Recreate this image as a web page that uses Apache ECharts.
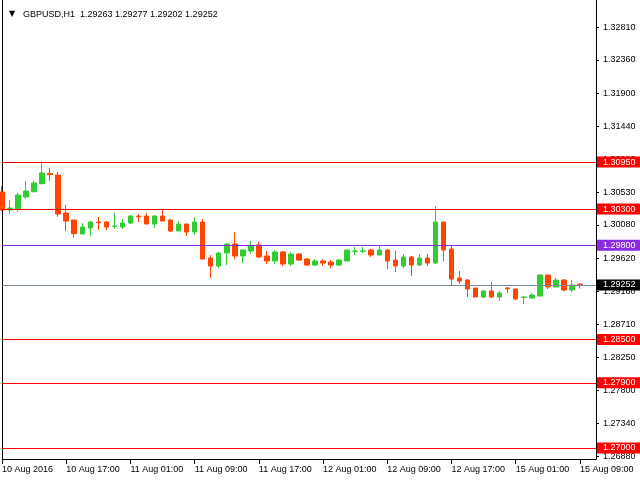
<!DOCTYPE html>
<html>
<head>
<meta charset="utf-8">
<script src="https://cdn.jsdelivr.net/npm/echarts@6/dist/echarts.min.js"></script>
<style>html,body{margin:0;padding:0;background:#fff;}#c{width:640px;height:480px;}</style>
</head>
<body>
<div id="c"></div>
<script>
var symbolName = 'GBPUSD,H1';
var days = ['10 Aug', '11 Aug', '12 Aug', '15 Aug'];
var dayHours = [[9, 23], [0, 23], [0, 23], [0, 11]];
var firstLabel = '10 Aug 2016';

var openV = [1.30536,1.30287,1.30301,1.30467,1.30540,1.30650,1.30794,1.30770,1.30246,1.30149,
 1.29956,1.30038,1.30121,1.30121,1.30062,1.30052,1.30107,1.30204,1.30204,1.30094,
 1.30204,1.30149,1.29997,1.30094,1.29983,1.30121,1.29624,1.29514,1.29693,1.29817,
 1.29652,1.29721,1.29804,1.29652,1.29583,1.29707,1.29541,1.29679,1.29610,1.29527,
 1.29583,1.29569,1.29527,1.29583,1.29717,1.29717,1.29734,1.29665,1.29734,1.29596,
 1.29514,1.29638,1.29527,1.29624,1.29555,1.30121,1.29748,1.29348,1.29320,1.29210,
 1.29085,1.29168,1.29085,1.29210,1.29196,1.29080,1.29072,1.29099,1.29389,1.29224,
 1.29320,1.29182,1.29263];
var highV = [1.30619,1.30425,1.30522,1.30688,1.30688,1.30960,1.30867,1.30812,1.30356,1.30149,
 1.30107,1.30135,1.30190,1.30135,1.30246,1.30163,1.30218,1.30232,1.30246,1.30218,
 1.30287,1.30163,1.30135,1.30094,1.30190,1.30163,1.29665,1.29707,1.29831,1.29983,
 1.29748,1.29859,1.29845,1.29721,1.29734,1.29721,1.29707,1.29685,1.29624,1.29610,
 1.29610,1.29596,1.29610,1.29740,1.29776,1.29776,1.29748,1.29804,1.29748,1.29721,
 1.29679,1.29652,1.29679,1.29679,1.30342,1.30121,1.29804,1.29445,1.29334,1.29210,
 1.29182,1.29293,1.29168,1.29224,1.29196,1.29099,1.29141,1.29403,1.29389,1.29348,
 1.29334,1.29320,1.29277];
var lowV = [1.30273,1.30232,1.30263,1.30439,1.30532,1.30650,1.30692,1.30195,1.29997,1.29905,
 1.29956,1.29928,1.30011,1.30011,1.30025,1.30025,1.30094,1.30121,1.30094,1.30038,
 1.30135,1.29983,1.29997,1.29928,1.29942,1.29610,1.29348,1.29486,1.29527,1.29610,
 1.29555,1.29679,1.29624,1.29541,1.29541,1.29514,1.29514,1.29590,1.29514,1.29514,
 1.29514,1.29486,1.29514,1.29580,1.29665,1.29693,1.29638,1.29665,1.29472,1.29431,
 1.29486,1.29375,1.29514,1.29514,1.29541,1.29583,1.29251,1.29265,1.29085,1.29085,
 1.29072,1.29072,1.29030,1.29141,1.29044,1.28989,1.29058,1.29099,1.29196,1.29224,
 1.29168,1.29154,1.29202];
var closeV = [1.30287,1.30315,1.30494,1.30549,1.30660,1.30798,1.30775,1.30232,1.30135,1.29960,
 1.30052,1.30121,1.30111,1.30052,1.30066,1.30107,1.30204,1.30194,1.30094,1.30204,
 1.30135,1.29997,1.30094,1.29983,1.30121,1.29610,1.29514,1.29693,1.29817,1.29652,
 1.29734,1.29790,1.29638,1.29583,1.29707,1.29541,1.29679,1.29596,1.29527,1.29583,
 1.29555,1.29527,1.29596,1.29734,1.29721,1.29721,1.29665,1.29734,1.29583,1.29514,
 1.29638,1.29527,1.29624,1.29555,1.30121,1.29734,1.29334,1.29306,1.29196,1.29085,
 1.29168,1.29085,1.29141,1.29200,1.29058,1.29085,1.29113,1.29389,1.29224,1.29320,
 1.29182,1.29251,1.29252];

var yTicks = [1.32810,1.32360,1.31900,1.31440,1.30990,1.30530,1.30080,1.29620,1.29160,1.28710,1.28250,1.27800,1.27340,1.26880];
var levelValues = [1.30950, 1.30300, 1.29800, 1.28500, 1.27900, 1.27000];
var levelColors = ['#FF0000', '#FF0000', '#8A2BE2', '#FF0000', '#FF0000', '#FF0000'];
var currentPrice = 1.29252;
var yMin = 1.26848, yMax = 1.33188;

var categories = [];
days.forEach(function (d, k) {
  for (var h = dayHours[k][0]; h <= dayHours[k][1]; h++) {
    categories.push(d + ' ' + (h < 10 ? '0' : '') + h + ':00');
  }
});

var candles = openV.map(function (o, i) { return [o, closeV[i], lowV[i], highV[i]]; });
var n = candles.length - 1;
var titleText = symbolName + '  ' + [openV[n], highV[n], lowV[n], closeV[n]].map(function (v) { return v.toFixed(5); }).join(' ');

var FONT = 'Liberation Sans';
var FS = 9;

var markData = levelValues.map(function (v, i) {
  return {
    yAxis: v,
    lineStyle: { color: levelColors[i], width: 1, type: 'solid' },
    label: { backgroundColor: levelColors[i] }
  };
});
markData.push({
  yAxis: currentPrice,
  lineStyle: { color: '#778899', width: 1, type: 'solid' },
  label: { backgroundColor: '#000000' }
});

var chart = echarts.init(document.getElementById('c'), null, { renderer: 'canvas' });
chart.setOption({
  animation: false,
  backgroundColor: '#ffffff',
  title: [
    { text: '\u25BC', left: 4, top: 5, textStyle: { fontSize: 8, fontWeight: 'normal', color: '#000', fontFamily: 'DejaVu Sans' } },
    { text: titleText, left: 18, top: 5, textStyle: { fontSize: FS, fontWeight: 'normal', color: '#000', fontFamily: FONT } }
  ],
  grid: { left: 2, right: 44, top: 0, bottom: 21, containLabel: false, outerBoundsMode: 'none' },
  xAxis: {
    type: 'category',
    data: categories,
    boundaryGap: false,
    axisLine: { show: true, lineStyle: { color: '#000', width: 1 } },
    axisTick: { show: true, interval: 7, length: 5, lineStyle: { color: '#000' } },
    axisLabel: {
      interval: 7, align: 'left', margin: 6, color: '#000', fontFamily: FONT, fontSize: FS,
      formatter: function (v, idx) { return idx === 0 ? firstLabel : v; }
    },
    splitLine: { show: false }
  },
  yAxis: [
    {
      type: 'value', position: 'right', min: yMin, max: yMax, scale: true,
      axisLine: { show: true, lineStyle: { color: '#000', width: 1 } },
      axisTick: { show: true, length: 3, customValues: yTicks, lineStyle: { color: '#000' } },
      axisLabel: {
        margin: 7, color: '#000', fontFamily: FONT, fontSize: FS, customValues: yTicks,
        formatter: function (v) { return v.toFixed(5); }
      },
      splitLine: { show: false }
    },
    {
      type: 'value', position: 'left', min: yMin, max: yMax, scale: true,
      axisLine: { show: true, lineStyle: { color: '#000', width: 1 } },
      axisTick: { show: false }, axisLabel: { show: false }, splitLine: { show: false }
    }
  ],
  series: [{
    type: 'candlestick',
    yAxisIndex: 0,
    data: candles,
    barWidth: 5,
    itemStyle: {
      color: '#32CD32', color0: '#FF4500',
      borderColor: '#32CD32', borderColor0: '#FF4500', borderWidth: 1
    },
    markLine: {
      silent: true,
      symbol: ['none', 'none'],
      precision: 5,
      label: {
        show: true, position: 'end', distance: 1,
        color: '#ffffff', fontFamily: FONT, fontSize: FS,
        padding: [1, 6, 0, 6], lineHeight: 10,
        formatter: function (p) { return Number(p.value).toFixed(5); }
      },
      emphasis: { disabled: true },
      data: markData
    }
  }]
});
</script>
</body>
</html>
